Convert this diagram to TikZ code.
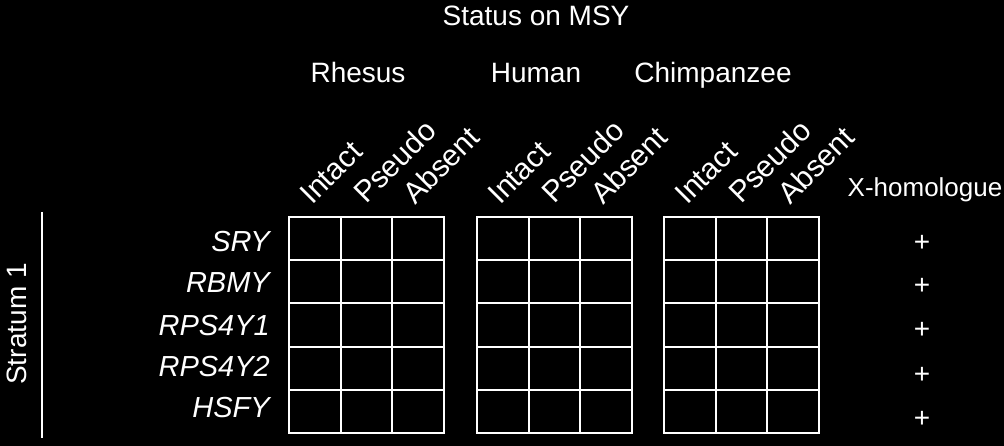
\documentclass[tikz,border=0pt]{standalone}
\usepackage{fontspec}
\setmainfont{Liberation Sans}
\tikzset{
    %Define style for text labels
    lbl/.style={
           text=white,
           inner sep=0pt,
           font=\fontsize{28}{32}\selectfont},
    gene/.style={
           lbl,
           anchor=base east,
           font=\fontsize{29}{32}\selectfont\itshape},
    colhead/.style={
           lbl,
           rotate=45,
           anchor=base west,
           font=\fontsize{30}{32}\selectfont},
    % Define line style
    gridline/.style={
           draw=white,
           line width=2.2pt},
}
\begin{document}
\begin{tikzpicture}[x=1pt, y=-1pt]
 \fill[black] (0,0) rectangle (1004,446);
 %headings
 \node[lbl, anchor=base] (status) at (536,26) {Status on MSY};
 \node[lbl, anchor=base] (rhesus) at (358,83) {Rhesus};
 \node[lbl, anchor=base] (human) at (536,83) {Human};
 \node[lbl, anchor=base] (chimp) at (713,83) {Chimpanzee};
 \node[lbl, anchor=base, font=\fontsize{26}{30}\selectfont] (xhom) at (925,197) {X-homologue};
 %tables
 \foreach \gx/\gn in {289/rh, 477/hu, 664/ch} {
   \node[colhead] (\gn-intact) at (\gx+23,206) {Intact};
   \node[colhead] (\gn-pseudo) at (\gx+77,205) {Pseudo};
   \node[colhead] (\gn-absent) at (\gx+126,206) {Absent};
   \draw[gridline] (\gx,217) rectangle ++(155,216);
   \foreach \i in {1,2} \draw[gridline] (\gx+\i*51.67,217) -- ++(0,216);
   \foreach \j in {1,...,4} \draw[gridline] (\gx,217+\j*43.2) -- ++(155,0);
 }
 %genes
 \node[gene] (sry) at (270,252) {SRY};
 \node[gene] (rbmy) at (270,293) {RBMY};
 \node[gene] (rpsa) at (270,335) {RPS4Y1};
 \node[gene] (rpsb) at (270,376) {RPS4Y2};
 \node[gene] (hsfy) at (270,417) {HSFY};
 %x-homologue marks
 \node[lbl, anchor=base] (xsry) at (922,252) {+};
 \node[lbl, anchor=base] (xrbmy) at (922,295) {+};
 \node[lbl, anchor=base] (xrpsa) at (922,338) {+};
 \node[lbl, anchor=base] (xrpsb) at (922,383) {+};
 \node[lbl, anchor=base] (xhsfy) at (922,427) {+};
 %stratum
 \node[lbl, rotate=90, anchor=base] (stratum) at (27,324) {Stratum 1};
 \coordinate (strtop) at (42,212);
 \coordinate (strbot) at (42,438);
 \draw[white, line width=2.2pt] (strtop) -- (strbot);
\end{tikzpicture}
\end{document}
